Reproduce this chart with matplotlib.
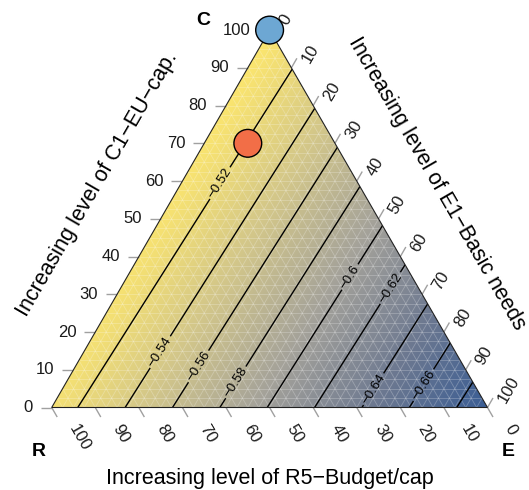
import matplotlib.pyplot as plt
import numpy as np
from matplotlib.collections import LineCollection
from matplotlib.colors import LinearSegmentedColormap
from matplotlib.patches import Polygon

plt.rcParams['font.family'] = ['Liberation Sans', 'DejaVu Sans']

# surface value at each corner of the simplex (R, C, E)
corner_labels = ['R', 'C', 'E']
corner_values = [-0.509, -0.500, -0.693]

contour_levels = [-0.68, -0.66, -0.64, -0.62, -0.60, -0.58, -0.56, -0.54, -0.52]
# (C, E) share where each contour label sits
label_C = [0.060, 0.046, 0.317, 0.346, 0.065, 0.107, 0.152, 0.603]
label_E = [0.822, 0.719, 0.618, 0.511, 0.392, 0.286, 0.166, 0.073]

# highlighted scenarios, in percent
point_R = [20, 0]
point_C = [70, 100]
point_E = [10, 0]
point_colors = ['#F26E47', '#6DA7D3']

tick_values = [0, 10, 20, 30, 40, 50, 60, 70, 80, 90, 100]

title_bottom = 'Increasing level of R5\u2212Budget/cap'
title_left = 'Increasing level of C1\u2212EU\u2212cap.'
title_right = 'Increasing level of E1\u2212Basic needs'

SQ = np.sqrt(3) / 2
PX = 1 / 435.8  # one pixel in plot units

# washed-out blue -> grey -> yellow
surface_cmap = LinearSegmentedColormap.from_list(
    'surface', ['#3A5D94', '#6C7890', '#A3A19A', '#D2C68A', '#FCE66E'])


def to_xy(r, c, e):
    r, c, e = np.asarray(r, float), np.asarray(c, float), np.asarray(e, float)
    tot = r + c + e
    return (e + c / 2) / tot, c * SQ / tot


fig = plt.figure(figsize=(5.29, 4.90), dpi=100)
ax = fig.add_axes([0, 0, 1, 1])
ax.set_xlim(-51.7 * PX, (529 - 51.7) * PX)
ax.set_ylim(-82.5 * PX, (490 - 82.5) * PX)
ax.axis('off')

corners = np.array([to_xy(1, 0, 0), to_xy(0, 1, 0), to_xy(0, 0, 1)])
tri = Polygon(corners, closed=True, transform=ax.transData)

# coloured surface, linear between the corner values
xs = np.linspace(-0.02, 1.02, 700)
ys = np.linspace(-0.02, 0.89, 620)
X, Y = np.meshgrid(xs, ys)
Cs = Y / SQ
Es = X - Cs / 2
Rs = 1 - Cs - Es
F = Rs * corner_values[0] + Cs * corner_values[1] + Es * corner_values[2]

im = ax.imshow(F, origin='lower', extent=[xs[0], xs[-1], ys[0], ys[-1]],
               cmap=surface_cmap, vmin=min(corner_values), vmax=max(corner_values),
               interpolation='bilinear', zorder=1)
im.set_clip_path(tri)

# faint triangular mesh
segs = []
for k in range(1, 40):
    v = k / 40
    segs.append([to_xy(1 - v, v, 0), to_xy(0, v, 1 - v)])
    segs.append([to_xy(1 - v, 0, v), to_xy(0, 1 - v, v)])
    segs.append([to_xy(v, 1 - v, 0), to_xy(v, 0, 1 - v)])
ax.add_collection(LineCollection(segs, colors='white', alpha=0.25, linewidths=0.6, zorder=2))

cs = ax.contour(X, Y, F, levels=contour_levels, colors='black', linewidths=1.0,
                linestyles='solid', zorder=3)
cs.set_clip_path(tri)
spots = [to_xy(1 - c - e, c, e) for c, e in zip(label_C, label_E)]
ax.clabel(cs, manual=spots, inline=True, inline_spacing=2,
          fontsize=9.5, fmt=lambda v: f'{v:g}'.replace('-', '\u2212'))

ax.add_patch(Polygon(corners, closed=True, fill=False, ec='#222222', lw=0.8, zorder=4))

# axis ticks and tick labels
tick_len = 11 * PX
left_ticks, bottom_ticks, right_ticks = [], [], []
for v in tick_values:
    f = v / 100
    # C axis, left edge
    x, y = to_xy(1 - f, f, 0)
    left_ticks.append([(x, y), (x - tick_len, y)])
    ax.text(x - 19 * PX, y, str(v), ha='right', va='center', fontsize=12, color='#1a1a1a')
    # R axis, bottom edge
    x, y = to_xy(f, 0, 1 - f)
    bottom_ticks.append([(x, y), (x + tick_len * 0.5, y - tick_len * SQ)])
    ax.text(x + 21 * PX, y - 18 * PX, str(v), ha='left', va='center', rotation=-60,
            rotation_mode='anchor', fontsize=12, color='#1a1a1a')
    # E axis, right edge
    x, y = to_xy(0, 1 - f, f)
    right_ticks.append([(x, y), (x + tick_len * 0.5, y + tick_len * SQ)])
    ax.text(x + 14 * PX, y + 6 * PX, str(v), ha='left', va='center', rotation=60,
            rotation_mode='anchor', fontsize=12, color='#1a1a1a')
ax.add_collection(LineCollection(left_ticks + bottom_ticks + right_ticks,
                                 colors='#a0a0a0', linewidths=1, zorder=2))

# corner letters
offsets = [(-12.7, -43.5), (-66, 9.4), (20.5, -43.5)]
for (cx, cy), lab, (dx, dy) in zip(corners, corner_labels, offsets):
    ax.text(cx + dx * PX, cy + dy * PX, lab, ha='center', va='center',
            fontsize=14, fontweight='bold')

# axis titles
ax.text(0.5, -76.5 * PX, title_bottom, ha='center', va='baseline', fontsize=15.5)
ax.text((97.5 - 51.7) * PX, (407.5 - 184.5) * PX, title_left, ha='center', va='center',
        rotation=60, rotation_mode='anchor', fontsize=15.5)
ax.text((436.5 - 51.7) * PX, (407.5 - 183.5) * PX, title_right, ha='center', va='center',
        rotation=-60, rotation_mode='anchor', fontsize=15.5)

px_, py_ = to_xy(point_R, point_C, point_E)
ax.scatter(px_, py_, s=400, c=point_colors, edgecolors='black', linewidths=1,
           zorder=6, clip_on=False)

fig.savefig('out.png', dpi=100)
